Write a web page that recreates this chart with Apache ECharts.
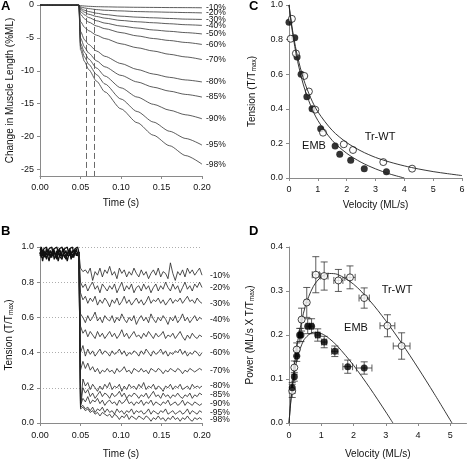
<!DOCTYPE html>
<html><head><meta charset="utf-8">
<script src="https://cdn.jsdelivr.net/npm/echarts@6/dist/echarts.min.js"></script>
<style>html,body{margin:0;padding:0;background:#fff}#c{width:468px;height:460px}</style>
</head><body><div id="c"></div>
<script>
// ---------- Panel A: change in muscle length ----------
const tA = [0, 0.048, 0.05, 0.055, 0.06, 0.07, 0.08, 0.1, 0.12, 0.14, 0.16, 0.18, 0.2];
const stepNames = ['-10%','-20%','-30%','-40%','-50%','-60%','-70%','-80%','-85%','-90%','-95%','-98%'];
const lenM10 = [0, 0, -0.1, -0.15, -0.2, -0.25, -0.28, -0.32, -0.35, -0.37, -0.39, -0.40, -0.42];
const lenM20 = [0, 0, -0.3, -0.45, -0.55, -0.7, -0.8, -0.9, -1.0, -1.05, -1.1, -1.15, -1.2];
const lenM30 = [0, 0, -0.5, -0.8, -1.0, -1.25, -1.45, -1.7, -1.85, -1.95, -2.05, -2.15, -2.2];
const lenM40 = [0, 0, -0.7, -1.1, -1.4, -1.75, -2.0, -2.35, -2.55, -2.7, -2.85, -3.0, -3.1];
const lenM50 = [0, 0, -1.0, -1.5, -1.9, -2.4, -2.75, -3.2, -3.5, -3.8, -4.0, -4.2, -4.4];
const lenM60 = [0, 0, -1.4, -2.1, -2.6, -3.2, -3.6, -4.2, -4.7, -5.1, -5.4, -5.7, -6.0];
const lenM70 = [0, 0, -2.5, -3.4, -3.9, -4.6, -5.1, -5.9, -6.5, -7.0, -7.5, -7.9, -8.3];
const lenM80 = [0, 0, -4.0, -5.3, -6.0, -7.0, -7.8, -8.9, -9.8, -10.5, -11.0, -11.4, -11.7];
const lenM85 = [0, 0, -5.0, -6.4, -7.3, -8.5, -9.4, -10.7, -11.7, -12.5, -13.1, -13.6, -14.0];
const lenM90 = [0, 0, -5.8, -7.2, -8.2, -9.6, -10.8, -12.6, -14.0, -15.1, -16.0, -16.7, -17.3];
const lenM95 = [0, 0, -6.3, -7.9, -9.0, -10.6, -12.0, -14.3, -16.2, -17.8, -19.2, -20.3, -21.3];
const lenM98 = [0, 0, -6.8, -8.6, -9.8, -11.6, -13.2, -15.8, -17.9, -19.8, -21.4, -22.9, -24.2];
const lengthCurves = [lenM10, lenM20, lenM30, lenM40, lenM50, lenM60, lenM70, lenM80, lenM85, lenM90, lenM95, lenM98];
const dashTimes = [0.057, 0.067];
const aYTicks = [0, -5, -10, -15, -20, -25];

// ---------- Panel B: tension traces ----------
const tPre = [0,0.0016,0.0032,0.0048,0.0064,0.008,0.0096,0.0112,0.0128,0.0144,0.016,0.0176,0.0192,0.0208,0.0224,0.024,0.0256,0.0272,0.0288,0.0304,0.032,0.0336,0.0352,0.0368,0.0384,0.04,0.0416,0.0432,0.0448,0.0464,0.048];
const preA = [0.96,0.99,0.95,0.98,0.96,0.99,0.97,0.95,0.98,0.96,0.99,0.97,0.94,0.98,0.96,0.99,0.95,0.97,0.99,0.96,0.98,0.95,0.97,0.99,0.96,0.98,0.95,0.97,0.99,0.96,0.97];
const preB = [0.97,0.94,0.98,0.95,0.97,0.93,0.96,0.98,0.94,0.97,0.95,0.98,0.96,0.93,0.97,0.95,0.98,0.94,0.96,0.97,0.93,0.96,0.98,0.95,0.97,0.94,0.96,0.98,0.95,0.97,0.97];
const preC = [0.95,0.97,0.92,0.96,0.94,0.97,0.95,0.92,0.96,0.94,0.97,0.93,0.95,0.97,0.92,0.95,0.96,0.93,0.97,0.94,0.96,0.92,0.95,0.97,0.93,0.96,0.94,0.97,0.96,0.95,0.97];
const preD = [0.98,1.00,0.97,0.99,0.98,1.00,0.97,0.99,0.98,1.00,0.97,0.99,0.98,1.00,0.97,0.99,0.98,1.00,0.97,0.99,0.98,1.00,0.97,0.99,0.98,1.00,0.97,0.99,0.98,1.00,0.97];
const tPost = [0.048,0.050,0.053,0.056,0.059,0.062,0.065,0.068,0.071,0.074,0.077,0.080,0.083,
  0.086,0.089,0.092,0.095,0.098,0.101,0.104,0.107,0.110,0.113,0.116,0.119,0.122,
  0.125,0.128,0.131,0.134,0.137,0.140,0.143,0.146,0.149,0.152,0.155,0.158,0.161,
  0.164,0.167,0.170,0.173,0.176,0.179,0.182,0.185,0.188,0.191,0.194,0.197,0.200];
const tenM10 = [0.97,0.88,0.86,0.87,0.85,0.88,0.81,0.86,0.84,0.88,0.83,0.87,0.85,
  0.89,0.84,0.86,0.82,0.88,0.85,0.87,0.83,0.86,0.84,0.88,0.85,0.83,
  0.87,0.84,0.86,0.82,0.85,0.87,0.84,0.88,0.83,0.86,0.85,0.82,0.91,
  0.85,0.81,0.86,0.84,0.87,0.83,0.88,0.85,0.87,0.84,0.86,0.88,0.84];
const tenM20 = [0.97,0.80,0.77,0.79,0.75,0.78,0.80,0.76,0.78,0.74,0.79,0.77,0.75,
  0.78,0.76,0.79,0.74,0.77,0.80,0.75,0.78,0.76,0.79,0.74,0.77,0.78,
  0.75,0.79,0.76,0.78,0.74,0.77,0.79,0.75,0.78,0.76,0.80,0.77,0.75,
  0.79,0.76,0.78,0.74,0.77,0.80,0.76,0.78,0.75,0.79,0.77,0.80,0.77];
const tenM30 = [0.97,0.74,0.70,0.72,0.68,0.71,0.69,0.72,0.67,0.70,0.68,0.71,0.69,
  0.66,0.70,0.68,0.71,0.67,0.69,0.72,0.68,0.70,0.67,0.69,0.71,0.68,
  0.70,0.67,0.69,0.72,0.68,0.70,0.69,0.71,0.68,0.70,0.67,0.69,0.71,
  0.68,0.70,0.69,0.71,0.68,0.70,0.72,0.69,0.70,0.68,0.71,0.69,0.68];
const tenM40 = [0.97,0.62,0.60,0.57,0.61,0.58,0.60,0.63,0.58,0.60,0.57,0.61,0.59,
  0.58,0.61,0.57,0.60,0.58,0.62,0.59,0.57,0.60,0.58,0.61,0.56,0.59,
  0.61,0.58,0.60,0.57,0.62,0.59,0.57,0.60,0.58,0.61,0.59,0.56,0.60,
  0.58,0.61,0.57,0.59,0.62,0.58,0.60,0.57,0.59,0.61,0.58,0.60,0.59];
const tenM50 = [0.97,0.55,0.51,0.53,0.49,0.52,0.50,0.48,0.52,0.49,0.51,0.48,0.50,
  0.52,0.49,0.51,0.48,0.50,0.53,0.49,0.51,0.48,0.50,0.52,0.49,0.50,
  0.48,0.51,0.49,0.52,0.50,0.48,0.51,0.49,0.50,0.52,0.48,0.50,0.49,
  0.51,0.48,0.50,0.52,0.49,0.47,0.50,0.48,0.51,0.49,0.48,0.50,0.49];
const tenM60 = [0.97,0.40,0.44,0.38,0.42,0.39,0.41,0.38,0.40,0.42,0.39,0.41,0.40,
  0.38,0.41,0.39,0.40,0.42,0.39,0.41,0.38,0.40,0.39,0.41,0.40,0.38,
  0.41,0.39,0.42,0.40,0.38,0.41,0.39,0.40,0.42,0.39,0.41,0.38,0.40,
  0.39,0.41,0.40,0.42,0.39,0.41,0.38,0.40,0.39,0.41,0.40,0.38,0.40];
const tenM70 = [0.97,0.30,0.35,0.31,0.34,0.30,0.32,0.29,0.31,0.28,0.30,0.29,0.31,
  0.29,0.30,0.28,0.31,0.29,0.30,0.32,0.29,0.30,0.28,0.31,0.30,0.29,
  0.31,0.29,0.30,0.28,0.31,0.30,0.29,0.31,0.30,0.28,0.30,0.29,0.31,
  0.30,0.29,0.31,0.30,0.28,0.30,0.29,0.31,0.30,0.29,0.30,0.31,0.30];
const tenM80 = [0.97,0.10,0.25,0.21,0.23,0.19,0.22,0.20,0.18,0.21,0.19,0.22,0.20,
  0.23,0.19,0.21,0.20,0.22,0.18,0.21,0.19,0.22,0.20,0.21,0.19,0.22,
  0.20,0.23,0.19,0.21,0.20,0.22,0.19,0.21,0.20,0.18,0.21,0.20,0.22,
  0.19,0.21,0.20,0.22,0.19,0.20,0.21,0.19,0.22,0.20,0.21,0.20,0.21];
const tenM85 = [0.97,0.09,0.20,0.17,0.19,0.15,0.17,0.14,0.16,0.18,0.15,0.17,0.16,
  0.14,0.17,0.15,0.16,0.18,0.15,0.17,0.14,0.16,0.15,0.17,0.16,0.14,
  0.16,0.15,0.17,0.14,0.16,0.18,0.15,0.16,0.14,0.17,0.15,0.16,0.14,
  0.16,0.15,0.17,0.15,0.14,0.16,0.15,0.17,0.14,0.16,0.15,0.17,0.16];
const tenM90 = [0.97,0.10,0.14,0.12,0.15,0.11,0.13,0.12,0.14,0.11,0.13,0.10,0.12,
  0.13,0.11,0.12,0.10,0.13,0.11,0.12,0.14,0.11,0.12,0.10,0.12,0.11,
  0.13,0.10,0.12,0.11,0.13,0.10,0.12,0.11,0.10,0.12,0.11,0.13,0.10,
  0.11,0.12,0.10,0.11,0.13,0.10,0.12,0.11,0.10,0.12,0.11,0.10,0.11];
const tenM95 = [0.97,0.09,0.10,0.08,0.09,0.07,0.09,0.06,0.08,0.07,0.09,0.06,0.08,
  0.06,0.07,0.05,0.08,0.06,0.07,0.05,0.07,0.06,0.08,0.05,0.07,0.06,
  0.07,0.05,0.06,0.08,0.05,0.07,0.06,0.05,0.07,0.06,0.08,0.05,0.06,
  0.07,0.05,0.06,0.07,0.05,0.06,0.08,0.05,0.07,0.06,0.05,0.07,0.06];
const tenM98 = [0.97,0.08,0.09,0.07,0.08,0.06,0.07,0.05,0.06,0.04,0.06,0.05,0.04,
  0.05,0.03,0.05,0.04,0.02,0.04,0.03,0.05,0.02,0.04,0.03,0.02,0.04,
  0.03,0.02,0.04,0.03,0.01,0.03,0.02,0.04,0.02,0.03,0.01,0.03,0.02,
  0.04,0.02,0.03,0.01,0.03,0.02,0.04,0.02,0.01,0.03,0.02,0.03,0.02];
const tensionTraces = [tenM10, tenM20, tenM30, tenM40, tenM50, tenM60, tenM70, tenM80, tenM85, tenM90, tenM95, tenM98];

// ---------- Panel C: tension-velocity ----------
const cEmbV = [0, 0.2, 0.28, 0.42, 0.62, 0.8, 1.1, 1.6, 1.76, 2.14, 2.61, 3.38];
const cEmbT = [0.90, 0.81, 0.70, 0.60, 0.47, 0.40, 0.285, 0.185, 0.137, 0.102, 0.054, 0.036];
const cWtV = [0.10, 0.06, 0.24, 0.53, 0.69, 0.91, 1.18, 1.9, 2.22, 3.27, 4.27];
const cWtT = [0.92, 0.805, 0.72, 0.59, 0.50, 0.395, 0.262, 0.195, 0.162, 0.092, 0.054];
const cFitWtV = [0, 0.1, 0.2, 0.3, 0.5, 0.75, 1.0, 1.5, 2.0, 2.5, 3.0, 3.5, 4.0, 4.5, 5.0, 5.5, 6.0];
const cFitWtT = [1.0, 0.878, 0.780, 0.699, 0.574, 0.464, 0.383, 0.275, 0.205, 0.156, 0.119, 0.092, 0.070, 0.052, 0.037, 0.025, 0.014];
const cFitEmbV = [0, 0.1, 0.2, 0.3, 0.5, 0.75, 1.0, 1.5, 2.0, 2.5, 3.0, 3.5, 4.0];
const cFitEmbT = [1.0, 0.867, 0.76, 0.673, 0.538, 0.419, 0.333, 0.217, 0.143, 0.091, 0.053, 0.023, 0.0];

// ---------- Panel D: power-velocity ----------
const dWtV = [0.10, 0.165, 0.24, 0.39, 0.55, 0.83, 1.09, 1.53, 1.89, 2.33, 3.05, 3.49];
const dWtP = [0.073, 0.126, 0.167, 0.235, 0.274, 0.337, 0.334, 0.324, 0.331, 0.284, 0.221, 0.175];
const dWtVerr = [0.02, 0.03, 0.03, 0.04, 0.05, 0.11, 0.12, 0.14, 0.16, 0.16, 0.23, 0.26];
const dWtPerr = [0.015, 0.015, 0.015, 0.026, 0.034, 0.041, 0.032, 0.025, 0.026, 0.023, 0.025, 0.03];
const dEmbV = [0.10, 0.165, 0.24, 0.33, 0.37, 0.58, 0.70, 0.89, 1.09, 1.42, 1.82, 2.33];
const dEmbP = [0.080, 0.105, 0.152, 0.20, 0.20, 0.22, 0.22, 0.20, 0.184, 0.163, 0.128, 0.125];
const dEmbVerr = [0.02, 0.02, 0.03, 0.04, 0.04, 0.05, 0.05, 0.07, 0.08, 0.10, 0.15, 0.24];
const dEmbPerr = [0.012, 0.010, 0.012, 0.015, 0.015, 0.017, 0.017, 0.014, 0.013, 0.012, 0.015, 0.014];
const dFitWtV = [0, 0.05, 0.1, 0.2, 0.3, 0.5, 0.75, 1.0, 1.25, 1.5, 2.0, 2.5, 3.0, 3.5, 4.0, 4.5, 5.05];
const dFitWtP = [0, 0.0462, 0.0859, 0.1497, 0.1981, 0.2639, 0.3099, 0.3322, 0.3398, 0.3378, 0.3155, 0.2783, 0.2323, 0.1805, 0.1249, 0.0666, 0];
const dFitEmbV = [0, 0.05, 0.1, 0.2, 0.3, 0.4, 0.5, 0.75, 1.0, 1.25, 1.5, 2.0, 2.5, 3.0, 3.22];
const dFitEmbP = [0, 0.044, 0.0782, 0.1269, 0.1585, 0.1791, 0.1925, 0.2061, 0.2034, 0.1918, 0.1748, 0.1311, 0.0802, 0.0251, 0];
const dXTicks = [0, 1, 2, 3, 4, 5];

// ---------- helpers ----------
const zip = (xs, ys) => xs.map((x, i) => [x, ys[i]]);
const FONT = 'Liberation Sans, Arial, sans-serif';
const AX = '#8a8a8a';
const TXT = '#111';
function axisBase(extra) {
  return Object.assign({
    axisLine: {show: true, onZero: false, lineStyle: {color: AX, width: 1}},
    axisTick: {show: true, length: 3, lineStyle: {color: AX}},
    splitLine: {show: false},
    axisLabel: {color: TXT, fontSize: 9, fontFamily: FONT, margin: 6},
    nameLocation: 'middle',
    nameTextStyle: {color: TXT, fontSize: 10, fontFamily: FONT}
  }, extra);
}
const subRich = {
  n: {fontSize: 10, fontFamily: FONT, color: TXT},
  s: {fontSize: 6.5, fontFamily: FONT, color: TXT, padding: [5, 0, 0, 0]}
};

const series = [];
// Panel A
lengthCurves.forEach((arr, i) => {
  const s = {
    type: 'line', name: stepNames[i], xAxisIndex: 0, yAxisIndex: 0,
    data: zip(tA, arr), symbol: 'none', smooth: 0.25, smoothMonotone: 'x',
    lineStyle: {color: '#333', width: 0.8},
    endLabel: {show: true, formatter: '{a}', fontSize: 8.5, fontFamily: FONT, color: TXT, distance: 4},
    silent: true
  };
  if (i === 0) {
    s.markLine = {symbol: 'none', silent: true, label: {show: false},
      lineStyle: {color: '#444', type: [6, 3], width: 0.8},
      data: dashTimes.map(t => [{coord: [t, -0.6]}, {coord: [t, -26]}])};
  }
  series.push(s);
});
// Panel B
[preA, preB, preC, preD].forEach(arr => series.push({
  type: 'line', xAxisIndex: 1, yAxisIndex: 1, data: zip(tPre, arr), symbol: 'none',
  lineStyle: {color: '#111', width: 1.3}, silent: true
}));
tensionTraces.forEach((arr, i) => {
  const s = {
    type: 'line', name: stepNames[i], xAxisIndex: 1, yAxisIndex: 1,
    data: zip(tPost, arr), symbol: 'none',
    lineStyle: {color: '#222', width: 0.8},
    endLabel: {show: true, formatter: '{a}', fontSize: 8.5, fontFamily: FONT, color: TXT, distance: 8},
    silent: true
  };
  if (i === 0) {
    s.markLine = {symbol: 'none', silent: true, label: {show: false},
      lineStyle: {color: '#777', type: [6, 3], width: 0.8},
      data: dashTimes.map(t => [{coord: [t, 1.01]}, {coord: [t, 0]}])};
  }
  series.push(s);
});
// Panel C
series.push({type: 'line', xAxisIndex: 2, yAxisIndex: 2, data: zip(cFitWtV, cFitWtT), symbol: 'none', smooth: 0.3, lineStyle: {color: '#222', width: 0.9}, silent: true});
series.push({type: 'line', xAxisIndex: 2, yAxisIndex: 2, data: zip(cFitEmbV, cFitEmbT), symbol: 'none', smooth: 0.3, lineStyle: {color: '#222', width: 0.9}, silent: true});
series.push({type: 'scatter', xAxisIndex: 2, yAxisIndex: 2, data: zip(cEmbV, cEmbT), symbol: 'circle', symbolSize: 7, itemStyle: {color: '#000'}, silent: true});
series.push({type: 'scatter', xAxisIndex: 2, yAxisIndex: 2, data: zip(cWtV, cWtT), symbol: 'circle', symbolSize: 7, itemStyle: {color: '#fff', borderColor: '#000', borderWidth: 0.9}, silent: true});
// Panel D
function errRender(params, api) {
  const x = api.value(0), y = api.value(1), ex = api.value(2), ey = api.value(3);
  const a = api.coord([x, y + ey]), b = api.coord([x, y - ey]);
  const l = api.coord([x - ex, y]), r = api.coord([x + ex, y]);
  const c = 3.5;
  const st = {stroke: '#333', lineWidth: 0.8, fill: null};
  const ln = (x1, y1, x2, y2) => ({type: 'line', shape: {x1, y1, x2, y2}, style: st});
  return {type: 'group', children: [
    ln(a[0], a[1], b[0], b[1]), ln(a[0] - c, a[1], a[0] + c, a[1]), ln(b[0] - c, b[1], b[0] + c, b[1]),
    ln(l[0], l[1], r[0], r[1]), ln(l[0], l[1] - c, l[0], l[1] + c), ln(r[0], r[1] - c, r[0], r[1] + c)
  ]};
}
series.push({type: 'line', xAxisIndex: 3, yAxisIndex: 3, data: zip(dFitWtV, dFitWtP), symbol: 'none', smooth: 0.3, lineStyle: {color: '#222', width: 0.9}, silent: true});
series.push({type: 'line', xAxisIndex: 3, yAxisIndex: 3, data: zip(dFitEmbV, dFitEmbP), symbol: 'none', smooth: 0.3, lineStyle: {color: '#222', width: 0.9}, silent: true});
series.push({type: 'custom', xAxisIndex: 3, yAxisIndex: 3, renderItem: errRender, encode: {x: 0, y: 1},
  data: dWtV.map((v, i) => [v, dWtP[i], dWtVerr[i], dWtPerr[i]]), silent: true, z: 3});
series.push({type: 'custom', xAxisIndex: 3, yAxisIndex: 3, renderItem: errRender, encode: {x: 0, y: 1},
  data: dEmbV.map((v, i) => [v, dEmbP[i], dEmbVerr[i], dEmbPerr[i]]), silent: true, z: 3});
series.push({type: 'scatter', xAxisIndex: 3, yAxisIndex: 3, data: zip(dWtV, dWtP), symbol: 'circle', symbolSize: 7, itemStyle: {color: '#fff', borderColor: '#000', borderWidth: 0.9}, silent: true, z: 4});
series.push({type: 'scatter', xAxisIndex: 3, yAxisIndex: 3, data: zip(dEmbV, dEmbP), symbol: 'circle', symbolSize: 7, itemStyle: {color: '#000'}, silent: true, z: 4});

const chart = echarts.init(document.getElementById('c'), null, {renderer: 'canvas'});
chart.setOption({
  animation: false,
  backgroundColor: '#fff',
  grid: [
    {left: 40, top: 5, width: 162, height: 171},
    {left: 40, top: 247, width: 162, height: 177},
    {left: 289, top: 5, width: 173, height: 173},
    {left: 289, top: 247, width: 177.5, height: 177}
  ],
  xAxis: [
    axisBase({type: 'value', gridIndex: 0, min: 0, max: 0.2, interval: 0.05, name: 'Time (s)', nameGap: 22,
      axisLabel: {color: TXT, fontSize: 9, fontFamily: FONT, margin: 7, formatter: v => v.toFixed(2)}}),
    axisBase({type: 'value', gridIndex: 1, min: 0, max: 0.2, interval: 0.05, name: 'Time (s)', nameGap: 26,
      axisLabel: {color: TXT, fontSize: 9, fontFamily: FONT, margin: 8, formatter: v => v.toFixed(2)}}),
    axisBase({type: 'value', gridIndex: 2, min: 0, max: 6, interval: 1, name: 'Velocity (ML/s)', nameGap: 22,
      axisLabel: {color: TXT, fontSize: 9, fontFamily: FONT, margin: 7}}),
    axisBase({type: 'value', gridIndex: 3, min: 0, max: 5.5, name: 'Velocity (ML/s)', nameGap: 26,
      axisTick: {show: true, length: 3, lineStyle: {color: AX}, customValues: dXTicks},
      axisLabel: {color: TXT, fontSize: 9, fontFamily: FONT, margin: 8, customValues: dXTicks}})
  ],
  yAxis: [
    axisBase({type: 'value', gridIndex: 0, min: -26, max: 0, name: 'Change in Muscle Length (%ML)', nameGap: 25,
      axisTick: {show: true, length: 3, lineStyle: {color: AX}, customValues: aYTicks},
      axisLabel: {color: TXT, fontSize: 9, fontFamily: FONT, margin: 6, customValues: aYTicks}}),
    axisBase({type: 'value', gridIndex: 1, min: 0, max: 1, interval: 0.2, name: '{n|Tension (T/T}{s|max}{n|)}', nameGap: 25,
      nameTextStyle: {rich: subRich},
      splitLine: {show: true, lineStyle: {color: '#999', type: [1, 2], width: 0.8}},
      axisLabel: {color: TXT, fontSize: 9, fontFamily: FONT, margin: 6, formatter: v => v.toFixed(1)}}),
    axisBase({type: 'value', gridIndex: 2, min: 0, max: 1, interval: 0.2, name: '{n|Tension (T/T}{s|max}{n|)}', nameGap: 31,
      nameTextStyle: {rich: subRich},
      axisLabel: {color: TXT, fontSize: 9, fontFamily: FONT, margin: 6, formatter: v => v.toFixed(1)}}),
    axisBase({type: 'value', gridIndex: 3, min: 0, max: 0.4, interval: 0.1, name: '{n|Power (ML/s X T/T}{s|max}{n|)}', nameGap: 33,
      nameTextStyle: {rich: subRich},
      axisLabel: {color: TXT, fontSize: 9, fontFamily: FONT, margin: 6, formatter: v => v.toFixed(1)}})
  ],
  graphic: [
    {type: 'text', left: 1, top: 0, style: {text: 'A', font: 'bold 13px ' + FONT, fill: '#000'}},
    {type: 'text', left: 1, top: 225, style: {text: 'B', font: 'bold 13px ' + FONT, fill: '#000'}},
    {type: 'text', left: 249, top: 0, style: {text: 'C', font: 'bold 13px ' + FONT, fill: '#000'}},
    {type: 'text', left: 249, top: 225, style: {text: 'D', font: 'bold 13px ' + FONT, fill: '#000'}},
    {type: 'text', x: 380, y: 137, style: {text: 'Tr-WT', font: '11px ' + FONT, fill: TXT, align: 'center', verticalAlign: 'middle'}},
    {type: 'text', x: 314, y: 146, style: {text: 'EMB', font: '11px ' + FONT, fill: TXT, align: 'center', verticalAlign: 'middle'}},
    {type: 'text', x: 397, y: 290, style: {text: 'Tr-WT', font: '11px ' + FONT, fill: TXT, align: 'center', verticalAlign: 'middle'}},
    {type: 'text', x: 356, y: 328, style: {text: 'EMB', font: '11px ' + FONT, fill: TXT, align: 'center', verticalAlign: 'middle'}}
  ],
  series: series
});
</script>
</body></html>
